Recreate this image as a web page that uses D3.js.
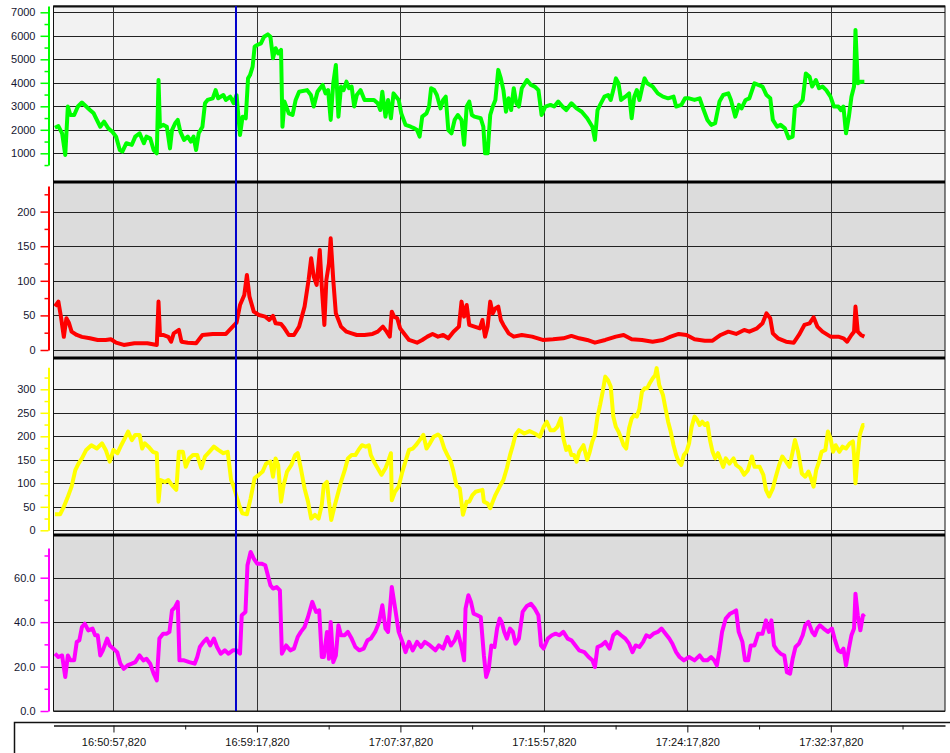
<!DOCTYPE html>
<html>
<head>
<meta charset="utf-8">
<script src="https://cdnjs.cloudflare.com/ajax/libs/d3/7.8.5/d3.min.js"></script>
<style>
  html, body { margin: 0; padding: 0; background: #fff; }
  svg { display: block; }
</style>
</head>
<body>
<div id="chart"></div>
<script>
// time = seconds since 16:47:28,820 (left edge of the plot)
const startClock = 16 * 3600 + 47 * 60 + 28.82;
const timeDomain = [0, 3107];
const majorTimeTicks = [209, 709, 1209, 1709, 2209, 2709];
const minorTimeTicks = [459, 959, 1459, 1959, 2459, 2959];
const cursorTime = 636;

// [time, value]
const greenSeries = [[5,2090],[17,2160],[30,1850],[41,930],[50,2990],[59,2630],[72,2630],[85,2990],[99,3160],[114,2990],[127,2840],[140,2700],[151,2420],[163,2130],[176,2350],[191,2060],[205,1920],[218,1710],[231,1140],[240,1070],[254,1430],[273,1360],[285,1710],[300,1850],[315,1430],[324,1710],[337,1640],[349,1140],[360,1000],[366,4120],[371,2130],[382,2210],[395,2130],[406,1210],[413,1990],[424,2280],[433,2420],[442,1920],[455,1570],[468,1710],[479,1500],[488,1710],[497,1140],[506,1850],[519,2130],[528,3130],[537,3270],[555,3340],[565,3690],[574,3340],[592,3480],[601,3270],[616,3410],[628,3130],[638,3480],[650,1780],[659,2560],[670,2490],[678,4190],[685,4330],[694,4690],[701,5540],[710,5610],[723,5680],[734,5960],[747,6060],[756,5960],[765,5040],[774,5470],[783,5250],[793,5400],[798,2130],[805,3200],[820,2700],[833,2630],[844,3270],[856,3620],[884,3690],[897,3480],[907,2990],[920,3620],[929,3770],[938,3910],[948,3550],[957,3690],[966,2420],[975,3980],[984,4760],[993,2560],[1002,3840],[1011,3690],[1021,4050],[1030,3770],[1039,3840],[1048,2990],[1057,3480],[1070,3690],[1084,3270],[1103,3270],[1117,3270],[1130,3130],[1139,2840],[1146,3620],[1157,2560],[1166,3270],[1176,2490],[1185,3550],[1194,3410],[1203,3270],[1212,2700],[1227,2210],[1245,2130],[1258,2060],[1267,1990],[1276,1710],[1285,2560],[1300,2700],[1309,2990],[1316,3770],[1327,3690],[1336,3480],[1349,2910],[1358,3270],[1367,3410],[1376,1990],[1387,1850],[1398,2420],[1409,2630],[1422,2420],[1431,1360],[1440,2990],[1449,3200],[1458,2630],[1467,2560],[1489,2490],[1498,2130],[1504,1000],[1513,1000],[1522,2630],[1531,2990],[1540,3270],[1550,4550],[1559,4190],[1568,3690],[1577,2770],[1586,3340],[1595,2840],[1604,3770],[1613,3130],[1622,2990],[1632,3770],[1650,4120],[1664,3910],[1677,3840],[1690,3690],[1701,2630],[1714,2990],[1732,3060],[1745,2990],[1759,3200],[1774,2990],[1787,2840],[1805,3130],[1823,2910],[1841,2770],[1860,2490],[1878,2130],[1887,1570],[1896,2840],[1905,3060],[1920,3410],[1933,3480],[1942,3270],[1951,3690],[1960,4190],[1969,3980],[1978,3270],[1993,3410],[2006,3550],[2015,2490],[2024,3410],[2033,3690],[2042,3270],[2051,3770],[2060,4190],[2069,3980],[2088,3840],[2106,3550],[2124,3410],[2142,3340],[2161,3410],[2170,2990],[2188,3060],[2201,3340],[2215,3340],[2234,3270],[2252,3340],[2266,2840],[2279,2420],[2292,2210],[2306,2280],[2321,3200],[2334,3480],[2352,3550],[2361,3270],[2376,2560],[2389,3060],[2398,2910],[2412,3270],[2425,3340],[2443,3980],[2456,3910],[2471,3840],[2485,3480],[2498,3340],[2507,2420],[2522,2130],[2534,2210],[2549,2060],[2562,1640],[2576,1710],[2584,2990],[2598,3060],[2611,3270],[2622,4400],[2635,4260],[2644,3840],[2657,4120],[2668,3770],[2680,3840],[2693,3690],[2708,3410],[2720,2990],[2735,2990],[2744,2840],[2753,2990],[2762,1850],[2772,2560],[2781,3410],[2790,3840],[2795,6250],[2803,3980],[2814,4050],[2826,4050]];

const redSeries = [[5,63],[17,70],[26,48],[36,19],[45,46],[54,39],[63,26.5],[81,21.7],[99,19],[127,16.9],[154,14.5],[182,14.5],[200,15.5],[218,10.6],[245,7.3],[282,9.7],[327,9.7],[360,7.3],[366,70],[371,21.7],[382,21.7],[400,19],[410,12],[419,24],[428,26.5],[437,29],[446,12],[468,10.6],[497,9.7],[519,21.7],[555,23.2],[601,23.2],[619,31.3],[638,39.5],[650,65],[665,79.5],[674,108.4],[683,77.1],[698,55.4],[716,50.6],[738,48.2],[752,43.4],[765,49.2],[774,38.6],[793,37.6],[805,31.3],[820,21.7],[838,21.7],[856,33.8],[875,62.7],[889,101.2],[898,132.5],[907,106],[917,94],[928,144.5],[935,91.6],[944,36.2],[951,101.2],[960,125.3],[966,161.4],[975,101.2],[984,53],[1002,33.8],[1021,26.5],[1039,24.1],[1057,21.7],[1084,21.7],[1112,23.2],[1130,26.5],[1148,33.8],[1161,26.5],[1172,19.3],[1179,55.4],[1187,48.2],[1198,45.8],[1208,31.3],[1221,24.1],[1239,14.5],[1267,10.6],[1285,14.5],[1303,19.3],[1321,23.2],[1340,19.3],[1358,21.7],[1376,16.9],[1394,26.5],[1413,33.8],[1422,69.9],[1431,48.2],[1440,65],[1449,36.2],[1467,33.8],[1486,31.3],[1495,43.4],[1504,19.3],[1513,33.8],[1522,69.9],[1531,53],[1540,60.2],[1550,62.7],[1559,43.4],[1568,36.2],[1586,24.1],[1604,19.3],[1632,21.7],[1668,19.3],[1705,14.5],[1741,15.5],[1777,16.9],[1805,20.3],[1832,16.9],[1860,14.5],[1887,10.6],[1923,14.5],[1960,19.3],[1987,21.7],[2015,15.5],[2051,14.5],[2088,12],[2124,14.5],[2151,19.3],[2179,23.2],[2206,21.7],[2234,15.5],[2270,13.5],[2297,13.5],[2325,21.7],[2352,26.5],[2379,23.2],[2407,29],[2425,26.5],[2452,31.3],[2471,38.6],[2485,53],[2498,45.8],[2507,24.1],[2525,16.9],[2553,12],[2580,10.6],[2598,21.7],[2617,36.2],[2635,38.6],[2649,47.3],[2662,33.8],[2680,26.5],[2708,19.3],[2735,19.3],[2753,16.9],[2766,12],[2781,21.7],[2790,26.5],[2795,62.7],[2803,26.5],[2814,21.7],[2826,19.3]];

const yellowSeries = [[5,34],[23,34],[36,50],[48,68],[63,93],[76,128],[87,142],[99,153],[114,171],[132,181],[151,174],[169,185],[182,171],[196,146],[209,171],[223,164],[236,181],[249,196],[260,210],[273,192],[285,203],[300,203],[309,174],[318,185],[331,178],[346,167],[360,164],[366,61],[373,107],[388,103],[400,107],[413,96],[428,86],[437,167],[451,167],[461,135],[473,153],[486,160],[501,160],[515,132],[528,157],[543,167],[559,178],[574,171],[592,164],[607,167],[619,107],[628,93],[638,72],[647,54],[658,36],[674,34],[687,68],[701,111],[716,118],[729,125],[741,142],[756,146],[765,114],[774,153],[783,139],[793,61],[802,96],[814,125],[829,139],[842,160],[851,164],[862,132],[875,89],[887,61],[898,25],[911,33],[924,25],[935,54],[942,96],[953,103],[960,61],[968,22],[979,50],[990,75],[1002,103],[1015,128],[1026,153],[1039,160],[1052,160],[1063,171],[1075,181],[1088,178],[1099,181],[1106,160],[1117,146],[1130,132],[1143,118],[1157,132],[1166,146],[1176,164],[1179,64],[1190,82],[1203,93],[1216,125],[1230,153],[1239,171],[1252,174],[1263,181],[1276,192],[1289,203],[1300,174],[1312,185],[1325,199],[1340,204],[1349,199],[1362,174],[1373,160],[1385,146],[1394,125],[1404,96],[1416,89],[1427,33],[1440,61],[1449,61],[1460,75],[1471,82],[1482,84],[1495,86],[1500,61],[1513,57],[1522,47],[1531,61],[1540,75],[1555,93],[1568,107],[1580,132],[1591,160],[1601,181],[1610,203],[1622,213],[1641,206],[1659,211],[1677,206],[1695,199],[1708,220],[1719,231],[1732,213],[1745,213],[1756,220],[1768,238],[1777,196],[1787,171],[1796,178],[1805,160],[1814,160],[1823,146],[1832,167],[1847,181],[1860,150],[1869,167],[1878,189],[1887,203],[1896,242],[1905,267],[1914,295],[1923,327],[1932,320],[1942,306],[1951,242],[1960,220],[1969,210],[1978,196],[1987,181],[1996,174],[2006,217],[2015,238],[2024,245],[2033,242],[2042,259],[2051,295],[2060,302],[2069,302],[2078,313],[2088,323],[2097,330],[2102,345],[2111,309],[2124,288],[2133,259],[2142,231],[2151,210],[2161,181],[2170,160],[2179,146],[2188,139],[2197,160],[2206,167],[2215,185],[2224,220],[2234,242],[2243,235],[2252,224],[2261,231],[2270,224],[2279,228],[2288,192],[2297,167],[2306,153],[2316,164],[2325,150],[2334,135],[2343,153],[2356,142],[2370,153],[2379,139],[2394,132],[2407,118],[2420,128],[2434,157],[2443,135],[2461,135],[2474,118],[2483,86],[2494,72],[2507,89],[2516,111],[2529,139],[2540,157],[2553,146],[2565,135],[2576,167],[2584,192],[2595,167],[2608,121],[2620,114],[2631,125],[2640,111],[2649,93],[2658,128],[2668,146],[2677,167],[2690,171],[2699,210],[2708,196],[2717,167],[2726,181],[2739,167],[2750,178],[2762,174],[2775,185],[2786,189],[2790,160],[2795,100],[2803,160],[2810,203],[2821,224],[2826,224]];

const magentaSeries = [[5,25.8],[17,24.3],[30,25],[41,15.3],[50,25],[59,22.8],[72,22.8],[81,31.1],[90,31.8],[99,37.8],[109,39.3],[121,36.3],[136,37.1],[145,34.1],[154,34.1],[163,25],[172,27.3],[187,32.6],[196,29.5],[209,28],[222,26.5],[233,21.3],[245,19],[258,20.5],[273,21.3],[285,22],[300,25],[313,22.8],[324,23.5],[337,21.3],[349,16.8],[360,13.8],[369,32.6],[382,34.8],[395,34.8],[404,35.6],[413,45.3],[424,46.8],[433,49.1],[439,22.8],[455,22.8],[473,22],[492,21.3],[501,24.3],[510,28.8],[523,31.1],[534,32.6],[546,29.5],[559,32.6],[570,28.8],[583,25.8],[597,27.3],[610,25.8],[625,27.3],[638,27.3],[650,25.8],[656,43.1],[669,44.6],[676,65.6],[687,71.6],[698,68.6],[710,66.3],[725,66.3],[738,65.6],[747,61.1],[756,56.6],[765,55.1],[778,55.8],[789,54.3],[796,25.8],[811,29.5],[825,27.3],[838,28.1],[851,33.3],[862,35.6],[875,37.8],[887,42.3],[902,49.1],[915,44.6],[926,45.3],[935,24.3],[942,24.3],[953,35.6],[960,23.5],[966,40.1],[975,22],[984,25],[993,38.6],[1002,34.1],[1015,34.1],[1026,35.6],[1039,32.6],[1052,28.8],[1066,27.3],[1081,28.1],[1094,31.8],[1106,32.6],[1121,35.6],[1135,40.1],[1146,47.6],[1157,37.1],[1166,35.6],[1179,55.8],[1190,46.8],[1203,35.6],[1216,31.1],[1227,26.5],[1239,31.1],[1252,27.3],[1267,31.1],[1281,28.8],[1294,31.1],[1312,29.5],[1331,27.3],[1343,29.5],[1358,28.1],[1373,33.3],[1385,29.5],[1398,31.8],[1409,35.6],[1422,28.8],[1431,22.8],[1436,46.1],[1446,52.1],[1455,49.1],[1464,43.8],[1477,43.1],[1489,42.3],[1500,25],[1508,15.3],[1517,19],[1526,29.5],[1537,28.8],[1546,37.1],[1555,41.6],[1562,40.1],[1571,35.6],[1580,32.6],[1591,37.1],[1601,35.6],[1610,30.3],[1622,32.6],[1635,44.6],[1650,47.3],[1664,48.3],[1677,46.1],[1690,43.1],[1699,29.5],[1708,28.1],[1723,32.6],[1737,34.1],[1750,34.8],[1763,34.1],[1777,35.6],[1792,32.6],[1805,31.8],[1819,29.5],[1832,27.3],[1850,26.5],[1865,24.3],[1878,22.8],[1887,19.8],[1896,28.8],[1909,29.5],[1923,31.1],[1938,28.1],[1951,34.1],[1964,35.6],[1978,34.1],[1993,32.6],[2006,30.3],[2018,26.5],[2029,29.5],[2042,28.8],[2055,31.1],[2066,34.1],[2078,33.3],[2091,34.8],[2106,35.6],[2119,37.1],[2133,34.8],[2146,32.6],[2157,30.3],[2170,26.5],[2182,24.3],[2197,22.8],[2215,24.3],[2234,22.8],[2252,25],[2265,22.8],[2279,22.8],[2292,24.3],[2303,22.8],[2312,20.5],[2321,27.3],[2330,35.6],[2343,41.6],[2358,43.8],[2370,44.6],[2379,45.3],[2388,35.6],[2401,31.1],[2410,22.8],[2421,22.8],[2430,29.5],[2443,29.5],[2456,34.8],[2471,34.8],[2483,40.8],[2494,35.6],[2502,40.8],[2511,29.5],[2522,27.3],[2534,25.8],[2547,25],[2556,17.5],[2567,16.8],[2576,23.5],[2586,28.8],[2598,30.3],[2611,34.1],[2620,38.6],[2631,40.1],[2644,35.6],[2653,34.1],[2662,37.1],[2671,38.6],[2684,37.1],[2699,35.6],[2713,37.1],[2722,32.6],[2735,27.3],[2744,26.5],[2753,28.1],[2762,20.5],[2772,28.1],[2781,34.1],[2790,37.1],[2795,52.8],[2803,43.1],[2812,36.3],[2821,43.1],[2826,42.3]];

const width = 950, height = 753;
const plotLeft = 53.5, plotRight = 945;
const axisX = 48.5;

const panels = [
  { top: 6, bottom: 182, bg: "#f2f2f2", color: "#00ff00", data: greenSeries,
    ref: [[1000, 153.3], [7000, 12.3]], axisExtent: [500, 7265],
    major: [1000, 2000, 3000, 4000, 5000, 6000, 7000],
    minor: [500, 1500, 2500, 3500, 4500, 5500, 6500],
    fmt: d3.format("d") },
  { top: 182, bottom: 358, bg: "#dcdcdc", color: "#ff0000", data: redSeries,
    ref: [[0, 350], [200, 211.6]], axisExtent: [0, 237],
    major: [0, 50, 100, 150, 200], minor: [25, 75, 125, 175, 225],
    fmt: d3.format("d") },
  { top: 358, bottom: 535, bg: "#f2f2f2", color: "#ffff00", data: yellowSeries,
    ref: [[0, 530.3], [300, 389.3]], axisExtent: [0, 347],
    major: [0, 50, 100, 150, 200, 250, 300], minor: [25, 75, 125, 175, 225, 275, 325],
    fmt: d3.format("d") },
  { top: 535, bottom: 711, bg: "#dcdcdc", color: "#ff00ff", data: magentaSeries,
    ref: [[0, 711], [60, 577.7]], axisExtent: [0, 73.4],
    major: [0, 20, 40, 60], minor: [10, 30, 50, 70],
    fmt: d3.format(".1f") }
];

const svg = d3.select("#chart").append("svg")
  .attr("width", width).attr("height", height)
  .attr("viewBox", `0 0 ${width} ${height}`)
  .style("font-family", "'Liberation Sans', Arial, sans-serif");

svg.append("rect").attr("width", width).attr("height", height).attr("fill", "#fff");

const x = d3.scaleLinear().domain(timeDomain).range([plotLeft, plotRight]);

const pad2 = n => String(n).padStart(2, "0");
const clockLabel = t => {
  const total = startClock + t;
  const h = Math.floor(total / 3600);
  const m = Math.floor((total % 3600) / 60);
  const s = Math.floor(total % 60);
  const ms = Math.round((total - Math.floor(total)) * 1000);
  return `${h}:${pad2(m)}:${pad2(s)},${String(ms).padStart(3, "0")}`;
};

const defs = svg.append("defs");

panels.forEach((p, i) => {
  const yRef = d3.scaleLinear().domain([p.ref[0][0], p.ref[1][0]]).range([p.ref[0][1], p.ref[1][1]]);
  const y = d3.scaleLinear().domain(p.axisExtent).range(p.axisExtent.map(yRef));

  // background
  svg.append("rect")
    .attr("x", plotLeft).attr("y", p.top)
    .attr("width", plotRight - plotLeft).attr("height", p.bottom - p.top)
    .attr("fill", p.bg);

  // horizontal grid
  svg.append("g").selectAll("line").data(p.major).join("line")
    .attr("x1", plotLeft).attr("x2", plotRight)
    .attr("y1", d => Math.round(y(d)) + 0.5).attr("y2", d => Math.round(y(d)) + 0.5)
    .attr("stroke", "#222").attr("stroke-width", 1);

  // vertical grid
  svg.append("g").selectAll("line").data(majorTimeTicks).join("line")
    .attr("x1", d => Math.round(x(d)) + 0.5).attr("x2", d => Math.round(x(d)) + 0.5)
    .attr("y1", p.top).attr("y2", p.bottom)
    .attr("stroke", "#333").attr("stroke-width", 1);

  // series line
  defs.append("clipPath").attr("id", "clip" + i)
    .append("rect").attr("x", plotLeft).attr("y", p.top + 1)
    .attr("width", plotRight - plotLeft).attr("height", p.bottom - p.top - 2);

  const line = d3.line().x(d => x(d[0])).y(d => y(d[1]));
  svg.append("path")
    .datum(p.data)
    .attr("clip-path", `url(#clip${i})`)
    .attr("fill", "none")
    .attr("stroke", p.color)
    .attr("stroke-width", 4)
    .attr("stroke-linejoin", "round")
    .attr("d", line);

  // y axis: major ticks with labels
  const ax = svg.append("g").attr("transform", `translate(${axisX},0)`)
    .call(d3.axisLeft(y).tickValues(p.major).tickSize(8).tickSizeOuter(0).tickPadding(5).tickFormat(p.fmt));
  ax.select(".domain").attr("stroke", p.color).attr("stroke-width", 2);
  ax.selectAll(".tick line").attr("stroke", p.color).attr("stroke-width", 1.5);
  ax.selectAll(".tick text").attr("fill", "#151530").style("font-size", "11px");

  const axm = svg.append("g").attr("transform", `translate(${axisX},0)`)
    .call(d3.axisLeft(y).tickValues(p.minor).tickSize(4).tickFormat(""));
  axm.select(".domain").remove();
  axm.selectAll(".tick line").attr("stroke", p.color).attr("stroke-width", 1.5);
});

// panel separators and frame
svg.append("rect")
  .attr("x", plotLeft).attr("y", 6)
  .attr("width", plotRight - plotLeft).attr("height", 711 - 6)
  .attr("fill", "none").attr("stroke", "#111").attr("stroke-width", 1);
svg.append("line").attr("x1", plotLeft).attr("x2", plotRight)
  .attr("y1", 6.5).attr("y2", 6.5).attr("stroke", "#111").attr("stroke-width", 2);
svg.append("g").selectAll("line").data(panels.slice(1)).join("line")
  .attr("x1", plotLeft).attr("x2", plotRight)
  .attr("y1", d => d.top).attr("y2", d => d.top)
  .attr("stroke", "#000").attr("stroke-width", 3);

// cursor line
svg.append("line")
  .attr("x1", x(cursorTime)).attr("x2", x(cursorTime))
  .attr("y1", 6).attr("y2", 711)
  .attr("stroke", "#0000cc").attr("stroke-width", 2);

// time axis box
svg.append("path")
  .attr("d", `M14.5,${height}V722.5H${width}`)
  .attr("fill", "none").attr("stroke", "#111").attr("stroke-width", 1.5);

const xAxisY = 725.5;
const xa = svg.append("g").attr("transform", `translate(0,${xAxisY})`)
  .call(d3.axisBottom(x).tickValues(majorTimeTicks).tickSize(7).tickSizeOuter(0).tickPadding(6).tickFormat(clockLabel));
xa.select(".domain").attr("stroke", "#111").attr("stroke-width", 1.5);
xa.selectAll(".tick line").attr("stroke", "#111");
xa.selectAll(".tick text").attr("fill", "#111").style("font-size", "11px");

const xm = svg.append("g").attr("transform", `translate(0,${xAxisY})`)
  .call(d3.axisBottom(x).tickValues(minorTimeTicks).tickSize(4).tickFormat(""));
xm.select(".domain").remove();
xm.selectAll(".tick line").attr("stroke", "#111");
</script>
</body>
</html>
